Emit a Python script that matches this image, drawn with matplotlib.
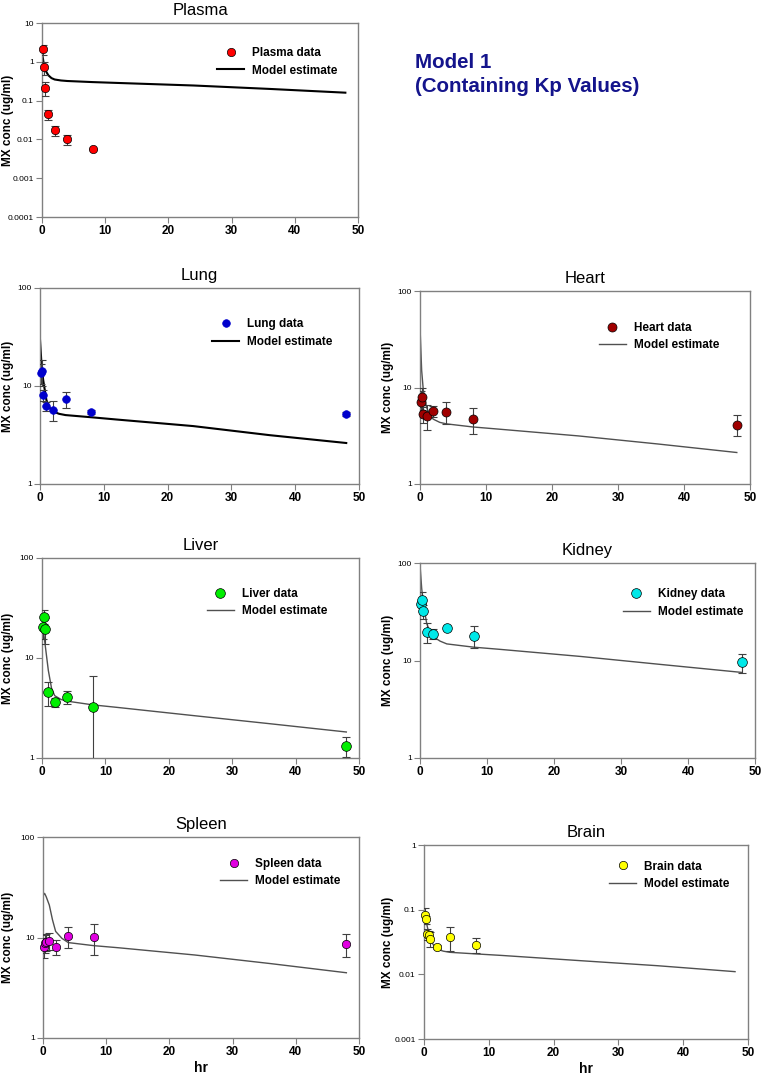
import matplotlib
matplotlib.use('Agg')
import matplotlib.pyplot as plt
from matplotlib.ticker import FixedLocator, NullLocator

plt.rcParams['font.family'] = ['Liberation Sans', 'DejaVu Sans']

W, H = 761, 1076

# sampling times (hr)
t_data = [0.083, 0.25, 0.5, 1, 2, 4, 8, 48]
t_brain = [0.083, 0.25, 0.5, 0.75, 1, 2, 4, 8]
t_model = [0, 0.25, 0.5, 1, 1.5, 2, 3, 4, 8, 12, 24, 36, 48]

# observed means and SDs
plasma_y = [2.09, 0.73, 0.215, 0.044, 0.0171, 0.0102, 0.00575]
plasma_sd = [0.6, 0.26, 0.085, 0.012, 0.0047, 0.003, 0.0]
lung_y = [13.6, 14.3, 8.0, 6.2, 5.7, 7.3, 5.43, 5.18]
lung_sd = [3.0, 4.3, 1.0, 0.6, 1.3, 1.3, 0.2, 0.2]
heart_y = [7.1, 7.9, 5.3, 5.1, 5.7, 5.6, 4.73, 4.13]
heart_sd = [2.0, 2.0, 1.0, 1.5, 0.8, 1.4, 1.4, 1.0]
liver_y = [20.6, 26.0, 19.4, 4.53, 3.62, 4.06, 3.27, 1.32]
liver_sd = [5.0, 4.0, 5.6, 1.2, 0.35, 0.6, 3.3, 0.3]
kidney_y = [38.3, 41.4, 31.9, 19.6, 18.8, 21.4, 18.0, 9.6]
kidney_sd = [5.0, 9.5, 5.0, 4.5, 2.0, 1.0, 4.7, 2.1]
spleen_y = [8.1, 8.75, 9.1, 9.3, 8.1, 10.3, 10.1, 8.67]
spleen_sd = [1.8, 1.8, 1.8, 1.8, 1.4, 2.4, 3.4, 2.2]
brain_y = [0.0827, 0.071, 0.042, 0.041, 0.0356, 0.0268, 0.0382, 0.0288]
brain_sd = [0.022, 0.01, 0.008, 0.005, 0.009, 0.002, 0.015, 0.0075]

# model estimates at t_model
plasma_m = [1.7, 0.95, 0.62, 0.45, 0.38, 0.35, 0.33, 0.32, 0.30, 0.285, 0.245, 0.20, 0.16]
lung_m = [29.7, 16, 11.5, 7.2, 6.0, 5.5, 5.2, 5.05, 4.8, 4.55, 3.9, 3.15, 2.62]
heart_m = [42.5, 15, 9.4, 6.2, 5.2, 4.7, 4.35, 4.2, 3.9, 3.7, 3.15, 2.6, 2.12]
liver_m = [22, 18, 13.5, 7.5, 5.0, 4.2, 3.85, 3.7, 3.4, 3.2, 2.65, 2.2, 1.82]
kidney_m = [96, 55, 38, 24, 19.5, 17.5, 15.8, 14.8, 13.7, 13.0, 11.0, 9.1, 7.55]
spleen_m = [26, 27.5, 25.5, 21, 15, 11.5, 9.8, 8.9, 8.3, 7.9, 6.7, 5.5, 4.46]
brain_m = [0.1, 0.075, 0.055, 0.034, 0.028, 0.0245, 0.0228, 0.0219, 0.0207, 0.0196, 0.0163, 0.0136, 0.011]

x_ticks = [0, 10, 20, 30, 40, 50]
yt_plasma = [0.0001, 0.001, 0.01, 0.1, 1, 10]
yt_plasma_lab = ['0.0001', '0.001', '0.01', '0.1', '1', '10']
yt_tissue = [1, 10, 100]
yt_tissue_lab = ['1', '10', '100']
yt_brain = [0.001, 0.01, 0.1, 1]
yt_brain_lab = ['0.001', '0.01', '0.1', '1']

fig = plt.figure(figsize=(W / 100, H / 100), dpi=100)


def make_ax(x0, y0, x1, y1):
    return fig.add_axes([x0 / W, 1 - y1 / H, (x1 - x0) / W, (y1 - y0) / H])


def panel(box, title, t, y, sd, tm, m, color, name, yt, ytl, leg, ms=6,
          thick=False, edge='black', xlabel=False):
    ax = make_ax(*box)
    ax.set_yscale('log')
    ax.set_xlim(0, 50)
    ax.set_ylim(yt[0], yt[-1])
    lc = 'black' if thick else '#505050'
    ax.plot(tm, m, color=lc, lw=1.5 if thick else 1.0, label='Model estimate', zorder=2)
    ax.errorbar(t, y, yerr=sd, fmt='none', ecolor='#404040', elinewidth=0.8,
                capsize=3, capthick=0.8, zorder=3)
    ax.plot(t, y, 'o', color=color, ms=ms, mec=edge, mew=0.5, ls='none',
            label=name + ' data', zorder=4, clip_on=False)
    ax.yaxis.set_major_locator(FixedLocator(yt))
    ax.yaxis.set_minor_locator(NullLocator())
    ax.set_yticklabels(ytl, fontsize=6)
    ax.set_xticks(x_ticks)
    ax.set_xticklabels([str(v) for v in x_ticks], fontsize=8.5, fontweight='bold')
    ax.tick_params(direction='out', length=4, width=0.8, color='#808080', pad=2)
    for s in ax.spines.values():
        s.set_color('#808080')
        s.set_linewidth(1)
    ax.set_title(title, fontsize=12, pad=6)
    ax.set_ylabel('MX conc (ug/ml)', fontsize=8.5, fontweight='bold')
    lab_x = 14 if box[0] < 200 else 394
    ax.yaxis.set_label_coords((lab_x - box[0]) / (box[2] - box[0]), 0.5)
    if xlabel:
        ax.set_xlabel('hr', fontsize=10, fontweight='bold', labelpad=2)
    h, lab = ax.get_legend_handles_labels()
    ax.legend(h[::-1], lab[::-1], loc='upper left', bbox_to_anchor=leg, frameon=False,
              prop={'size': 8.5, 'weight': 'bold'}, handlelength=2.3,
              handletextpad=0.7, borderaxespad=0, borderpad=0, labelspacing=0.45)
    return ax


panel((42, 23, 358, 217), 'Plasma', t_data[:7], plasma_y, plasma_sd, t_model, plasma_m,
      '#ff0000', 'Plasma', yt_plasma, yt_plasma_lab, (0.554, 0.875), ms=6, thick=True)
panel((40, 288, 359, 484), 'Lung', t_data, lung_y, lung_sd, t_model, lung_m,
      '#0000cc', 'Lung', yt_tissue, yt_tissue_lab, (0.539, 0.845), ms=5.5, thick=True,
      edge='#0000cc')
panel((420, 291, 750, 484), 'Heart', t_data, heart_y, heart_sd, t_model, heart_m,
      '#a00000', 'Heart', yt_tissue, yt_tissue_lab, (0.542, 0.84), ms=6.5)
panel((42, 558, 359, 758), 'Liver', t_data, liver_y, liver_sd, t_model, liver_m,
      '#00ee00', 'Liver', yt_tissue, yt_tissue_lab, (0.52, 0.85), ms=7)
panel((420, 563, 755, 758), 'Kidney', t_data, kidney_y, kidney_sd, t_model, kidney_m,
      '#00e8e8', 'Kidney', yt_tissue, yt_tissue_lab, (0.605, 0.87), ms=7)
panel((43, 837, 359, 1038), 'Spleen', t_data, spleen_y, spleen_sd, t_model, spleen_m,
      '#e000e0', 'Spleen', yt_tissue, yt_tissue_lab, (0.56, 0.895), ms=6, xlabel=True)
panel((424, 845, 748, 1039), 'Brain', t_brain, brain_y, brain_sd, t_model, brain_m,
      '#ffff00', 'Brain', yt_brain, yt_brain_lab, (0.571, 0.92), ms=6, xlabel=True)

fig.text(415 / W, 1 - 62 / H, 'Model 1', color='#14148c', fontsize=14.8,
         fontweight='bold', ha='left', va='center')
fig.text(415 / W, 1 - 86 / H, '(Containing Kp Values)', color='#14148c', fontsize=14.8,
         fontweight='bold', ha='left', va='center')

fig.savefig('out.png', dpi=100)
